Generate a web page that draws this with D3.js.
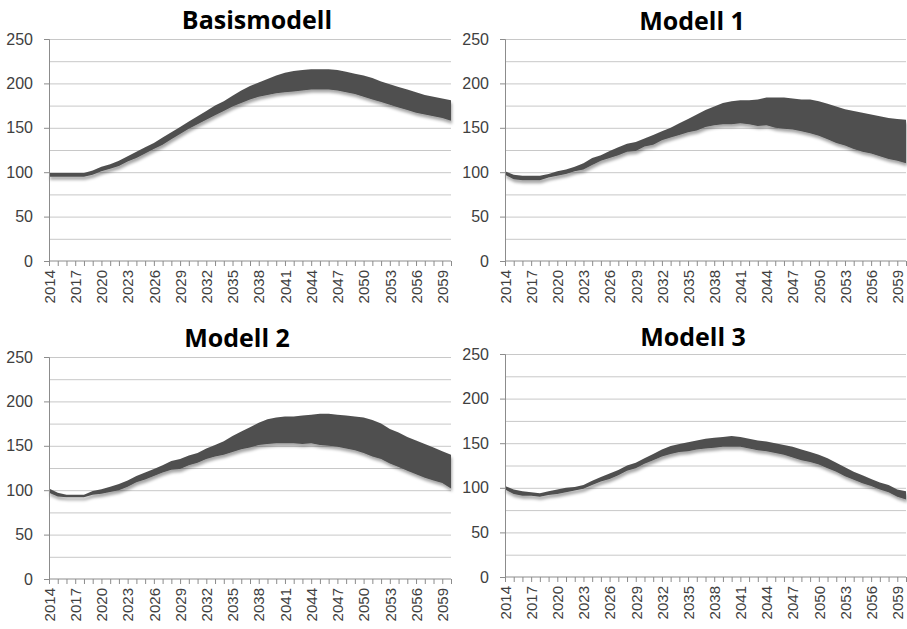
<!DOCTYPE html>
<html>
<head>
<meta charset="utf-8">
<script src="https://cdn.jsdelivr.net/npm/d3@7"></script>
<style>
  body { margin: 0; background: #fff; }
  svg { display: block; font-family: "Open Sans", sans-serif; }
  .grid line { stroke: #c8c8c8; }
  .grid path { display: none; }
  .axis path, .axis line { stroke: #8c8c8c; }
  .axis text { fill: #404040; }
</style>
</head>
<body>
<script>
//years on the category axis
var years = d3.range(2014, 2061);

//chart titles
var titles = ["Basismodell", "Modell 1", "Modell 2", "Modell 3"];

//y axis labels
var yTicks = [0, 50, 100, 150, 200, 250];

//upper and lower edge of each band, 2014-2060
var basisUpper = [99,99,99,99,99,102,106,109,113,118,123,128,133,139,145,151,157,163,169,175,180,186,192,197,201,205,209,212,214,215,216,216,216,215,213,211,209,206,202,199,196,193,190,187,185,183,181];
var basisLower = [95,95,95,95,95,97,101,104,107,112,116,121,126,131,137,143,149,154,159,164,169,174,178,182,185,187,189,190,191,192,193,193,193,192,190,188,185,182,179,176,173,170,167,165,163,161,158];

var m1Upper = [101,97,96,96,96,98,101,103,106,110,116,119,124,128,132,134,138,142,146,150,155,160,165,170,174,178,180,181,181,182,184,184,184,183,182,182,180,177,174,171,169,167,165,163,161,160,159];
var m1Lower = [97,92,91,91,91,94,96,98,101,103,108,113,116,119,123,124,129,131,136,139,142,145,147,151,153,154,154,155,154,152,153,150,149,148,146,144,141,137,133,130,126,123,121,118,115,113,110];

var m2Upper = [102,97,95,95,95,99,101,104,107,111,116,120,124,128,133,135,139,142,147,151,155,161,166,171,176,180,182,183,183,184,185,186,186,185,184,183,182,179,175,169,165,160,156,152,148,144,140];
var m2Lower = [97,93,92,92,92,95,96,98,100,104,109,112,116,120,123,124,128,131,135,138,140,143,146,148,151,152,153,153,153,152,153,151,150,149,147,145,142,138,135,130,126,122,118,114,111,108,102];

var m3Upper = [102,98,96,95,94,96,98,100,101,103,108,112,116,120,125,128,133,138,143,147,149,151,153,155,156,157,158,157,155,153,152,150,148,146,143,140,137,133,128,123,118,114,110,106,103,98,96];
var m3Lower = [98,93,91,91,90,92,93,95,97,99,103,107,110,114,119,122,127,131,135,138,140,141,143,144,145,146,146,146,144,142,141,139,137,134,131,129,126,122,118,113,109,105,102,98,95,90,87];

var bands = [
    [basisUpper, basisLower],
    [m1Upper, m1Lower],
    [m2Upper, m2Lower],
    [m3Upper, m3Lower]
];

//panel frames in page pixels
var frames = [
    {left: 49, right: 451, top: 39, bottom: 261, tx: 257, ty: 29},
    {left: 505, right: 906, top: 39, bottom: 261, tx: 692, ty: 30},
    {left: 49, right: 451, top: 357, bottom: 579, tx: 237, ty: 347},
    {left: 505, right: 906, top: 354, bottom: 577, tx: 693, ty: 346}
];

var width = 907,
    height = 629;

var svg = d3.select("body")
    .append("svg")
    .attr("width", width)
    .attr("height", height);

//soft drop shadow like the office chart
var shadow = svg.append("defs")
    .append("filter")
    .attr("id", "shadow")
    .attr("x", "-5%").attr("y", "-20%")
    .attr("width", "110%").attr("height", "150%");
shadow.append("feDropShadow")
    .attr("dx", 1)
    .attr("dy", 3)
    .attr("stdDeviation", 1.6)
    .attr("flood-color", "#000")
    .attr("flood-opacity", 0.35);

titles.forEach(function(title, i){
    var f = frames[i];
    var g = svg.append("g");

    var x = d3.scalePoint()
        .domain(years)
        .range([f.left, f.right]);

    var y = d3.scaleLinear()
        .domain([0, 250])
        .range([f.bottom, f.top]);

    //horizontal gridlines every 25
    g.append("g")
        .attr("class", "grid")
        .attr("transform", "translate(" + f.left + ",0)")
        .call(d3.axisLeft(y)
            .tickValues(d3.range(25, 251, 25))
            .tickSize(-(f.right - f.left))
            .tickFormat(""));

    //the band between lower and upper series
    var area = d3.area()
        .x(function(d, k){ return x(years[k]); })
        .y0(function(d, k){ return y(bands[i][1][k]); })
        .y1(function(d){ return y(d); });

    g.append("path")
        .datum(bands[i][0])
        .attr("fill", "#4f4f4f")
        .attr("filter", "url(#shadow)")
        .attr("d", area);

    //y axis
    var yAxis = g.append("g")
        .attr("class", "axis")
        .attr("transform", "translate(" + f.left + ",0)")
        .call(d3.axisLeft(y)
            .tickValues(yTicks)
            .tickSize(5)
            .tickPadding(11));
    yAxis.selectAll("text")
        .style("font-size", "16px");

    //x axis with a tick on every year, label every third
    var xAxis = g.append("g")
        .attr("class", "axis")
        .attr("transform", "translate(0," + f.bottom + ")")
        .call(d3.axisBottom(x)
            .tickSize(5)
            .tickFormat(function(d){ return (d - 2014) % 3 === 0 ? d : ""; }));
    xAxis.select(".domain")
        .attr("d", "M" + f.left + ",0H" + f.right);
    xAxis.selectAll("text")
        .style("font-size", "15px")
        .attr("text-anchor", "end")
        .attr("transform", "rotate(-90)")
        .attr("x", -9)
        .attr("y", 0)
        .attr("dy", "0.35em");

    //title
    g.append("text")
        .attr("x", f.tx)
        .attr("y", f.ty)
        .attr("text-anchor", "middle")
        .style("font-size", "25px")
        .style("font-weight", "bold")
        .attr("fill", "#000")
        .text(title);
});
</script>
</body>
</html>
